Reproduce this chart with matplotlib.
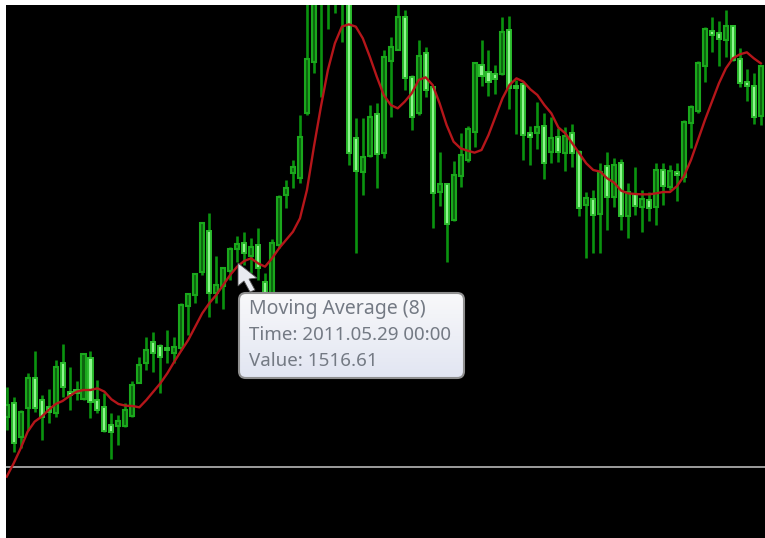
import matplotlib
matplotlib.use("Agg")
import matplotlib.pyplot as plt
import numpy as np
from matplotlib.patches import FancyBboxPatch, Polygon

# Price levels (arbitrary chart scale, larger = lower on screen)
high = [1160,1190,1230,1120,1052,1185,1168,1080,1032,1100,
        1143,1062,1052,1140,1180,1240,1245,1210,1143,1070,
        1010,995,1032,990,1010,910,880,818,665,638,
        768,800,740,708,697,715,685,820,718,585,
        540,480,345,-40,-40,-40,-40,-40,-40,-40,
        355,355,315,308,150,110,-40,30,225,120,
        140,258,455,550,482,400,378,185,120,150,
        195,50,48,240,245,378,305,340,350,385,
        382,372,450,575,570,490,455,475,478,550,
        500,570,575,488,490,495,490,360,315,182,
        82,52,62,30,75,145,208,220,195]
body_top = [1215,1210,1235,1135,1133,1200,1222,1100,1090,1175,
            1170,1063,1075,1200,1220,1275,1262,1230,1155,1095,
            1050,1025,1037,1043,1040,915,883,822,670,692,
            855,805,748,733,730,740,735,845,730,590,
            565,500,412,178,-30,-30,-30,-30,-30,-30,
            415,470,350,342,172,140,52,52,230,168,
            160,262,552,552,525,465,388,188,195,215,
            222,95,90,258,252,400,382,378,415,412,
            408,400,455,595,598,515,498,495,488,575,
            582,598,600,510,510,512,515,365,322,190,
            88,92,100,78,78,178,246,258,198]
body_bottom = [1250,1330,1310,1225,1225,1250,1235,1240,1160,1185,
               1178,1198,1205,1230,1292,1295,1278,1278,1248,1150,
               1090,1060,1072,1050,1058,1045,917,885,815,878,
               878,858,812,748,758,768,805,890,890,735,
               585,520,535,340,185,-10,-10,-10,-10,458,
               512,515,468,462,460,182,150,235,352,340,
               270,578,575,672,660,527,480,395,228,245,
               236,222,265,265,405,410,400,490,455,455,
               458,458,625,615,645,642,590,590,648,648,
               618,622,625,620,558,562,525,530,370,332,
               198,106,116,120,180,248,258,350,348]
low = [1290,1355,1345,1290,1235,1320,1268,1250,1190,1230,
       1200,1200,1255,1240,1295,1378,1335,1280,1250,1150,
       1110,1115,1178,1090,1090,1050,1005,910,825,952,
       910,928,840,785,795,820,840,900,900,745,
       625,565,550,345,220,290,88,40,125,495,
       760,585,470,565,475,350,150,270,390,345,
       292,685,618,785,662,560,485,440,258,288,
       282,225,328,402,480,495,448,538,488,485,
       512,500,648,775,758,758,690,622,690,715,
       645,695,662,675,615,570,602,545,445,340,
       245,155,198,170,182,262,302,372,375]
bright = [0,1,0,0,1,1,1,0,1,1,
          1,0,1,1,1,1,0,0,0,0,
          0,1,1,1,0,0,0,0,0,1,
          0,0,0,0,1,0,1,1,0,0,
          0,0,0,0,0,0,0,0,0,1,
          1,0,0,1,0,0,0,1,1,0,
          1,1,0,1,0,0,0,0,1,1,
          1,0,1,1,1,1,0,1,0,1,
          0,1,1,0,1,0,1,0,1,0,
          1,0,1,0,1,0,1,0,0,0,
          0,1,1,0,1,1,1,1,0]
moving_average = [1430,1390,1345,1295,1265,1250,1230,1212,1203,1188,
                  1175,1170,1170,1165,1175,1198,1212,1217,1218,1222,
                  1200,1175,1150,1120,1085,1052,1020,980,940,910,
                  885,855,825,800,783,775,790,800,775,745,
                  720,695,655,570,440,320,210,130,80,73,
                  80,115,170,230,285,315,325,305,280,240,
                  232,255,310,375,425,445,452,458,450,405,
                  350,295,255,235,245,268,285,315,340,382,
                  400,430,460,490,510,515,535,548,572,580,
                  582,583,583,580,576,576,558,528,480,420,
                  360,305,250,205,175,163,157,175,190]
support_level = 1400

tooltip_lines = ["Moving Average (8)", "Time: 2011.05.29 00:00", "Value: 1516.61"]
tooltip_sizes = [14.0, 13.5, 13.5]

W, H = 765, 538
fig = plt.figure(figsize=(W/100, H/100), dpi=100, facecolor="white")
L, T = 6, 5
ax = fig.add_axes([L/W, 0, (W-L)/W, (H-T)/H], facecolor="black")
ax.set_xlim(-0.1, 108.6)
ax.set_ylim(H*3, T*3)
ax.set_xticks([]); ax.set_yticks([])
for s in ax.spines.values():
    s.set_visible(False)

idx = np.arange(len(high))
ht = np.array(high, float); lw = np.array(low, float)
tp = np.array(body_top, float); bt = np.array(body_bottom, float)
br = np.array(bright, bool)

ax.vlines(idx, ht, lw, color="#0a930f", lw=1.9, zorder=2)
ax.bar(idx[~br], (bt-tp)[~br], bottom=tp[~br], width=0.58,
       facecolor="#0c640f", edgecolor="#1aa81c", lw=1.5, zorder=3)
ax.bar(idx[br], (bt-tp)[br], bottom=tp[br], width=0.58,
       facecolor="#8ff58f", edgecolor="#2cbc2e", lw=1.4, zorder=3)

ax.axhline(support_level, color="#a9a9a9", lw=1.3, zorder=1)
ax.plot(idx, moving_average, color="#b5161a", lw=1.7, zorder=4)

def px(x, y):
    return x/W, 1-y/H

# tooltip with a soft vertical gradient
fx0, fy0 = px(239, 378); fx1, fy1 = px(464, 293)
tip = fig.add_axes([fx0, fy0, fx1-fx0, fy1-fy0], zorder=10)
tip.axis("off")
grad = np.linspace(0, 1, 64)[:, None, None]
top_c = np.array([0.975, 0.975, 0.98]); bot_c = np.array([0.885, 0.90, 0.95])
im = tip.imshow(top_c*(1-grad) + bot_c*grad, extent=(0, 1, 0, 1), aspect="auto", origin="upper")
box = FancyBboxPatch((0, 0), 1, 1, transform=tip.transAxes,
                     boxstyle="round,pad=0,rounding_size=0.03", mutation_aspect=225/85,
                     facecolor="none", edgecolor="#8f8f8f", lw=1.5, clip_on=False)
tip.add_patch(box)
im.set_clip_path(box)
for txt, y, size in zip(tooltip_lines, [309, 335, 361], tooltip_sizes):
    x, yf = px(249, y)
    fig.text(x, yf, txt, color="#747a84", fontsize=size, family="Noto Sans",
             va="center", ha="left", zorder=11)

# mouse cursor
cur = [(238,263),(238,286),(244,281),(250,292),(255,290),(249,279),(257,278)]
fig.add_artist(Polygon([px(*p) for p in cur], closed=True, transform=fig.transFigure,
                       facecolor="#e8eaf0", edgecolor="#555555", lw=0.6, zorder=12))

fig.savefig("out.png", dpi=100, facecolor="white")
